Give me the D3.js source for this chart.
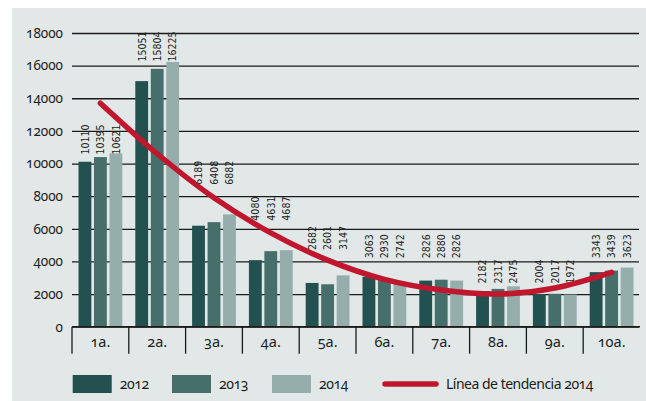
<!DOCTYPE html>
<html>
<head>
<meta charset="utf-8">
<script src="https://cdn.jsdelivr.net/npm/d3@7"></script>
<style>
  body { margin: 0; background: #fff; }
  svg { display: block; }
  .hum { font-family: "Noto Sans", sans-serif; font-feature-settings: "onum" 1; fill: #1c1c1c; }
  .val { font-family: "Liberation Sans Narrow", "Arial Narrow", "DejaVu Sans Condensed", sans-serif; font-size: 10.5px; fill: #222; }
</style>
</head>
<body>
<div class="chart"></div>
<script>
const categories = ["1a.", "2a.", "3a.", "4a.", "5a.", "6a.", "7a.", "8a.", "9a.", "10a."]
const series = ["2012", "2013", "2014"]
const v2012 = [10110, 15051, 6189, 4080, 2682, 3063, 2826, 2182, 2004, 3343]
const v2013 = [10395, 15804, 6408, 4631, 2601, 2930, 2880, 2317, 2017, 3439]
const v2014 = [10621, 16225, 6882, 4687, 3147, 2742, 2826, 2475, 1972, 3623]
const trend2014 = [13700, 10600, 7900, 5750, 4080, 2900, 2250, 2000, 2370, 3330]
const yTicks = [0, 2000, 4000, 6000, 8000, 10000, 12000, 14000, 16000, 18000]
const trendLabel = "Línea de tendencia 2014"

// where the rotated value labels of each group sit (in data units), as placed by hand in the original
const labelAnchor = [10550, 16250, 8700, 6500, 4700, 4200, 4200, 2650, 2650, 4200]

const colors = ["#22514f", "#466f6c", "#95aeab"]
const red = "#c0172e"

const w = 646, h = 401
const mLeft = 72, mRight = 640, mTop = 33, mBottom = 326.7

const values = [v2012, v2013, v2014]
const rows = categories.map((c, i) => ({cat: c, vals: series.map((s, j) => ({s, j, v: values[j][i]}))}))

const x0 = d3.scaleBand().domain(categories).range([mLeft, mRight]).padding(0)
const x1 = d3.scaleBand().domain(series).range([6.5, x0.bandwidth() - 6.5]).paddingInner(0.17)
const y = d3.scaleLinear().domain([0, 18000]).range([mBottom, mTop])

const svg = d3.select(".chart").append("svg").attr("width", w).attr("height", h)

svg.append("rect").attr("x", 12).attr("y", 8).attr("width", w - 12).attr("height", h - 8).attr("fill", "#e1e8e7")

// y axis with gridlines
const yAxis = d3.axisLeft(y).tickValues(yTicks).tickSize(-(mRight - mLeft - 1)).tickPadding(9).tickFormat(d3.format("d"))
const gy = svg.append("g").attr("transform", `translate(${mLeft},0)`).call(yAxis)
gy.select(".domain").remove()
gy.selectAll("line").attr("stroke", "#1a1a1a").attr("stroke-width", 1.3)
gy.selectAll("text").attr("class", "hum").attr("font-size", 13.5).attr("fill", "#1c1c1c")

// bars
const groups = svg.append("g").selectAll("g").data(rows).enter().append("g")
  .attr("transform", d => `translate(${x0(d.cat)},0)`)

groups.selectAll("rect").data(d => d.vals).enter().append("rect")
  .attr("x", d => x1(d.s))
  .attr("y", d => y(d.v))
  .attr("width", x1.bandwidth())
  .attr("height", d => y(0) - y(d.v))
  .attr("fill", d => colors[d.j])

groups.each(function(d, i){
  d3.select(this).selectAll("text").data(d.vals).enter().append("text")
    .attr("class", "val")
    .attr("transform", v => `translate(${x1(v.s) + x1.bandwidth() / 2 + 3.8},${y(labelAnchor[i])}) rotate(-90)`)
    .text(v => v.v)
})

// bottom axis with group separators
const xAxis = d3.axisBottom(x0).tickSize(0).tickPadding(9)
const gx = svg.append("g").attr("transform", `translate(0,${mBottom})`).call(xAxis)
gx.select(".domain").attr("stroke", "#1a1a1a").attr("stroke-width", 1.6).attr("d", `M${mLeft},0H${mRight}`)
gx.selectAll("text").attr("class", "hum").attr("font-size", 14.5).attr("dy", "0.75em")
gx.selectAll(".sep").data(categories).enter().append("line")
  .attr("class", "sep")
  .attr("x1", d => x0(d)).attr("x2", d => x0(d))
  .attr("y1", 0).attr("y2", 27)
  .attr("stroke", "#1a1a1a").attr("stroke-width", 1.3)

// trend line
const line = d3.line()
  .x((d, i) => x0(categories[i]) + x0.bandwidth() / 2)
  .y(d => y(d))
  .curve(d3.curveCatmullRom)
svg.append("path").datum(trend2014).attr("d", line)
  .attr("fill", "none").attr("stroke", red).attr("stroke-width", 5.5).attr("stroke-linecap", "round")

// legend
const legendX = [72.7, 172, 272]
const lg = svg.append("g")
series.forEach((s, j) => {
  lg.append("rect").attr("x", legendX[j]).attr("y", 375).attr("width", 39).attr("height", 18).attr("fill", colors[j])
  lg.append("text").attr("class", "hum").attr("x", legendX[j] + 47).attr("y", 389)
    .attr("font-size", 14).attr("letter-spacing", -0.4).text(s)
})
lg.append("line").attr("x1", 385).attr("x2", 436).attr("y1", 384).attr("y2", 384)
  .attr("stroke", red).attr("stroke-width", 5.5).attr("stroke-linecap", "round")
lg.append("text").attr("class", "hum").attr("x", 446).attr("y", 389)
  .attr("font-size", 14).attr("letter-spacing", -0.5).text(trendLabel)
</script>
</body>
</html>
